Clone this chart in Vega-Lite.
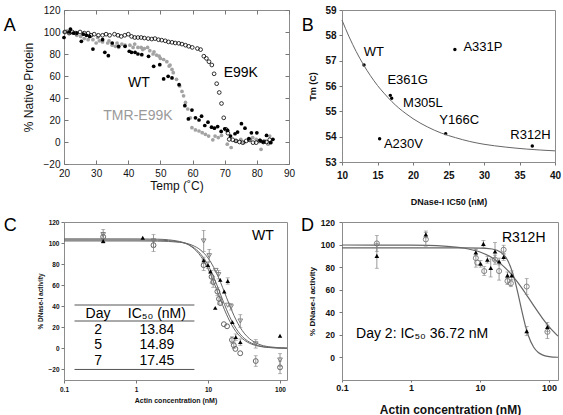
{
  "$schema": "https://vega.github.io/schema/vega-lite/v6.json",
  "padding": {"left": 3, "top": 4, "right": 0, "bottom": 0},
  "background": "white",
  "config": {
    "font": "Liberation Sans",
    "view": {"stroke": "#8c8c8c", "strokeWidth": 1},
    "axis": {"grid": false, "domain": false, "tickColor": "#777", "labelColor": "#111", "titleColor": "#111", "labelFlush": false, "labelOverlap": false, "labelFont": "Liberation Sans", "titleFont": "Liberation Sans"},
    "text": {"font": "Liberation Sans"}
  },
  "datasets": {
    "A": [
      {"s":"TMR","t":20,"v":100},{"s":"TMR","t":21,"v":101},{"s":"TMR","t":22,"v":99},{"s":"TMR","t":23,"v":99},{"s":"TMR","t":24,"v":97},{"s":"TMR","t":25.2,"v":96},{"s":"TMR","t":26.3,"v":94},{"s":"TMR","t":27.5,"v":93},{"s":"TMR","t":29,"v":93},{"s":"TMR","t":30,"v":90},{"s":"TMR","t":30.5,"v":95},{"s":"TMR","t":31,"v":92},{"s":"TMR","t":32,"v":91},{"s":"TMR","t":33.6,"v":90},{"s":"TMR","t":34,"v":92},{"s":"TMR","t":35,"v":88},{"s":"TMR","t":36,"v":87},{"s":"TMR","t":36.5,"v":90},{"s":"TMR","t":37,"v":86},{"s":"TMR","t":38,"v":89},{"s":"TMR","t":39,"v":88},{"s":"TMR","t":40.5,"v":88},{"s":"TMR","t":41.5,"v":86},{"s":"TMR","t":42,"v":89},{"s":"TMR","t":43,"v":86},{"s":"TMR","t":44,"v":86},{"s":"TMR","t":44.5,"v":84},{"s":"TMR","t":45,"v":85},{"s":"TMR","t":46,"v":86},{"s":"TMR","t":46.7,"v":83},{"s":"TMR","t":47.7,"v":80},{"s":"TMR","t":48,"v":82},{"s":"TMR","t":48.8,"v":79},{"s":"TMR","t":49.6,"v":78},{"s":"TMR","t":50,"v":76},{"s":"TMR","t":51,"v":75},{"s":"TMR","t":52,"v":73},{"s":"TMR","t":52.7,"v":69},{"s":"TMR","t":53,"v":70},{"s":"TMR","t":53.6,"v":66},{"s":"TMR","t":54,"v":63},{"s":"TMR","t":55,"v":57},{"s":"TMR","t":56,"v":51},{"s":"TMR","t":56.7,"v":46},{"s":"TMR","t":57.2,"v":42},{"s":"TMR","t":57.8,"v":36},{"s":"TMR","t":58.5,"v":30},{"s":"TMR","t":59.3,"v":22},{"s":"TMR","t":59.8,"v":13},{"s":"TMR","t":60.9,"v":11},{"s":"TMR","t":62,"v":10},{"s":"TMR","t":63,"v":8.5},{"s":"TMR","t":64,"v":7},{"s":"TMR","t":65,"v":5.4},{"s":"TMR","t":66.3,"v":2},{"s":"TMR","t":67,"v":5.4},{"s":"TMR","t":68,"v":4},{"s":"TMR","t":69,"v":6},{"s":"TMR","t":70.8,"v":-2},{"s":"TMR","t":72,"v":-5},{"s":"TMR","t":73.5,"v":1},{"s":"TMR","t":75,"v":2.4},{"s":"TMR","t":76,"v":-0.6},{"s":"TMR","t":77.6,"v":2},{"s":"TMR","t":78.7,"v":4},{"s":"TMR","t":79.8,"v":2.4},{"s":"TMR","t":81.3,"v":-6.6},{"s":"TMR","t":82.4,"v":1},{"s":"TMR","t":83.5,"v":-2},{"s":"TMR","t":84,"v":5.4},{"s":"TMR","t":84.5,"v":0},
      {"s":"E99K","t":20.3,"v":100},{"s":"E99K","t":21.6,"v":99},{"s":"E99K","t":22.6,"v":100},{"s":"E99K","t":23.7,"v":99},{"s":"E99K","t":25,"v":100},{"s":"E99K","t":26.3,"v":99},{"s":"E99K","t":27.5,"v":99},{"s":"E99K","t":28.4,"v":97},{"s":"E99K","t":29.4,"v":98},{"s":"E99K","t":30.7,"v":97},{"s":"E99K","t":32,"v":97},{"s":"E99K","t":33.1,"v":98},{"s":"E99K","t":34.2,"v":97},{"s":"E99K","t":35.7,"v":98},{"s":"E99K","t":36.8,"v":97},{"s":"E99K","t":37.8,"v":96},{"s":"E99K","t":38.9,"v":97},{"s":"E99K","t":40,"v":98},{"s":"E99K","t":41,"v":96},{"s":"E99K","t":42,"v":95},{"s":"E99K","t":43,"v":95},{"s":"E99K","t":44,"v":95},{"s":"E99K","t":45,"v":94.5},{"s":"E99K","t":46.2,"v":94},{"s":"E99K","t":47.3,"v":93.6},{"s":"E99K","t":48.3,"v":94},{"s":"E99K","t":49.4,"v":93},{"s":"E99K","t":50.4,"v":92.6},{"s":"E99K","t":51.5,"v":92},{"s":"E99K","t":52.5,"v":91},{"s":"E99K","t":53.6,"v":90.6},{"s":"E99K","t":54.6,"v":90},{"s":"E99K","t":55.7,"v":89.7},{"s":"E99K","t":56.7,"v":89},{"s":"E99K","t":57.8,"v":88},{"s":"E99K","t":58.8,"v":87},{"s":"E99K","t":59.9,"v":86},{"s":"E99K","t":61.5,"v":85},{"s":"E99K","t":62.5,"v":84},{"s":"E99K","t":63.5,"v":78},{"s":"E99K","t":64.3,"v":76},{"s":"E99K","t":65.1,"v":73},{"s":"E99K","t":66,"v":70},{"s":"E99K","t":66.7,"v":62},{"s":"E99K","t":67.5,"v":53},{"s":"E99K","t":68.3,"v":45},{"s":"E99K","t":69,"v":35},{"s":"E99K","t":69.7,"v":22},{"s":"E99K","t":70.4,"v":11.5},{"s":"E99K","t":71,"v":8},{"s":"E99K","t":71.4,"v":2.4},{"s":"E99K","t":72.5,"v":2},{"s":"E99K","t":73.5,"v":1},{"s":"E99K","t":74.6,"v":0},{"s":"E99K","t":75.6,"v":-0.6},{"s":"E99K","t":76.7,"v":1},{"s":"E99K","t":77.7,"v":2},{"s":"E99K","t":78.8,"v":-0.6},{"s":"E99K","t":79.8,"v":-0.6},{"s":"E99K","t":80.9,"v":1},{"s":"E99K","t":82,"v":0},{"s":"E99K","t":83,"v":0},{"s":"E99K","t":84,"v":2},
      {"s":"WT","t":20,"v":95},{"s":"WT","t":21.6,"v":100},{"s":"WT","t":22,"v":102.7},{"s":"WT","t":23,"v":99},{"s":"WT","t":24,"v":99},{"s":"WT","t":25.4,"v":91.5},{"s":"WT","t":26,"v":98},{"s":"WT","t":27,"v":97},{"s":"WT","t":28,"v":96},{"s":"WT","t":29,"v":84.5},{"s":"WT","t":32,"v":93},{"s":"WT","t":32.7,"v":81.5},{"s":"WT","t":33.8,"v":78.5},{"s":"WT","t":35,"v":90},{"s":"WT","t":37,"v":87},{"s":"WT","t":39,"v":87},{"s":"WT","t":40.3,"v":82.5},{"s":"WT","t":41,"v":81.5},{"s":"WT","t":42.1,"v":81.5},{"s":"WT","t":43,"v":80},{"s":"WT","t":44.2,"v":79.4},{"s":"WT","t":46.3,"v":77.9},{"s":"WT","t":47.9,"v":68.8},{"s":"WT","t":49.8,"v":70.3},{"s":"WT","t":51,"v":57.3},{"s":"WT","t":52.4,"v":59.7},{"s":"WT","t":53.6,"v":58.2},{"s":"WT","t":55.8,"v":52.1},{"s":"WT","t":57.6,"v":33},{"s":"WT","t":58.7,"v":21},{"s":"WT","t":59.8,"v":29},{"s":"WT","t":60.9,"v":22},{"s":"WT","t":62,"v":20},{"s":"WT","t":62.8,"v":23.5},{"s":"WT","t":63.8,"v":15},{"s":"WT","t":64.8,"v":18},{"s":"WT","t":65.9,"v":13.5},{"s":"WT","t":66.8,"v":12.6},{"s":"WT","t":67.8,"v":14},{"s":"WT","t":68.9,"v":9.6},{"s":"WT","t":70,"v":12},{"s":"WT","t":70.9,"v":10.5},{"s":"WT","t":71.8,"v":5.4},{"s":"WT","t":73.2,"v":7.5},{"s":"WT","t":74,"v":9},{"s":"WT","t":75.2,"v":16.6},{"s":"WT","t":76.3,"v":12.6},{"s":"WT","t":77.5,"v":3},{"s":"WT","t":78.3,"v":8.4},{"s":"WT","t":80,"v":8.4},{"s":"WT","t":81,"v":1.5},{"s":"WT","t":82,"v":0},{"s":"WT","t":83,"v":6},{"s":"WT","t":84.3,"v":-0.6},{"s":"WT","t":85,"v":2.4}
    ],
    "B_curve": [
      {"x":10,"y":58.6},{"x":11,"y":57.94},{"x":12,"y":57.36},{"x":13,"y":56.85},{"x":14,"y":56.41},{"x":15,"y":56.02},{"x":16,"y":55.69},{"x":17,"y":55.39},{"x":18,"y":55.13},{"x":19,"y":54.91},{"x":20,"y":54.71},{"x":22,"y":54.39},{"x":24,"y":54.14},{"x":26,"y":53.96},{"x":28,"y":53.81},{"x":30,"y":53.7},{"x":33,"y":53.59},{"x":36,"y":53.51},{"x":40,"y":53.44}
    ],
    "B_pts": [
      {"m":"WT","x":13.1,"y":56.83,"lx":13.05,"ly":57.36},
      {"m":"E361G","x":16.8,"y":55.63,"lx":16.4,"ly":56.22},
      {"m":"M305L","x":17.0,"y":55.52,"lx":18.6,"ly":55.34},
      {"m":"A331P","x":25.9,"y":57.44,"lx":27.1,"ly":57.53},
      {"m":"A230V","x":15.3,"y":53.92,"lx":15.9,"ly":53.7},
      {"m":"Y166C","x":24.6,"y":54.12,"lx":23.7,"ly":54.64},
      {"m":"R312H","x":36.8,"y":53.63,"lx":33.7,"ly":54.08}
    ],
    "C_curve": [
      {"d":"2","c":0.1,"v":104},{"d":"2","c":1,"v":103.96},{"d":"2","c":2,"v":103.69},{"d":"2","c":4,"v":101.55},{"d":"2","c":6,"v":96.17},{"d":"2","c":8,"v":87.17},{"d":"2","c":10,"v":75.52},{"d":"2","c":12,"v":62.96},{"d":"2","c":14,"v":51.1},{"d":"2","c":16,"v":40.86},{"d":"2","c":18,"v":32.5},{"d":"2","c":20,"v":25.88},{"d":"2","c":23,"v":18.61},{"d":"2","c":26,"v":13.63},{"d":"2","c":30,"v":9.3},{"d":"2","c":35,"v":6.06},{"d":"2","c":40,"v":4.14},{"d":"2","c":50,"v":2.16},{"d":"2","c":70,"v":0.8},{"d":"2","c":125,"v":0.14},
      {"d":"5","c":0.1,"v":103},{"d":"5","c":1,"v":102.97},{"d":"5","c":2,"v":102.75},{"d":"5","c":4,"v":101.04},{"d":"5","c":6,"v":96.67},{"d":"5","c":8,"v":89.17},{"d":"5","c":10,"v":79.05},{"d":"5","c":12,"v":67.61},{"d":"5","c":14,"v":56.24},{"d":"5","c":16,"v":45.97},{"d":"5","c":18,"v":37.23},{"d":"5","c":20,"v":30.09},{"d":"5","c":23,"v":21.98},{"d":"5","c":26,"v":16.29},{"d":"5","c":30,"v":11.22},{"d":"5","c":35,"v":7.36},{"d":"5","c":40,"v":5.05},{"d":"5","c":50,"v":2.65},{"d":"5","c":70,"v":0.98},{"d":"5","c":125,"v":0.17},
      {"d":"7","c":0.1,"v":102},{"d":"7","c":1,"v":101.98},{"d":"7","c":2,"v":101.85},{"d":"7","c":4,"v":100.79},{"d":"7","c":6,"v":98.02},{"d":"7","c":8,"v":93.04},{"d":"7","c":10,"v":85.84},{"d":"7","c":12,"v":76.97},{"d":"7","c":14,"v":67.27},{"d":"7","c":16,"v":57.6},{"d":"7","c":18,"v":48.63},{"d":"7","c":20,"v":40.71},{"d":"7","c":23,"v":31},{"d":"7","c":26,"v":23.68},{"d":"7","c":30,"v":16.77},{"d":"7","c":35,"v":11.25},{"d":"7","c":40,"v":7.82},{"d":"7","c":50,"v":4.16},{"d":"7","c":70,"v":1.56},{"d":"7","c":125,"v":0.28}
    ],
    "C_pts": [
      {"d":"2","c":0.35,"v":102,"e":2},{"d":"2","c":1.24,"v":105,"e":0},{"d":"2","c":8.7,"v":83.6,"e":3},{"d":"2","c":10,"v":79,"e":3},{"d":"2","c":10.8,"v":73,"e":0},{"d":"2","c":12.6,"v":38.5,"e":0},{"d":"2","c":14.8,"v":65,"e":0},{"d":"2","c":16.8,"v":54,"e":0},{"d":"2","c":18.8,"v":64,"e":3},{"d":"2","c":21.8,"v":25,"e":0},{"d":"2","c":24.3,"v":10.7,"e":3},{"d":"2","c":28.1,"v":6,"e":3},{"d":"2","c":100,"v":12,"e":0},
      {"d":"5","c":0.35,"v":106,"e":4},{"d":"5","c":1.75,"v":98,"e":6},{"d":"5","c":8.7,"v":79,"e":5},{"d":"5","c":11.2,"v":68,"e":6},{"d":"5","c":11.8,"v":63,"e":5},{"d":"5","c":13.5,"v":54,"e":4},{"d":"5","c":14.2,"v":47,"e":5},{"d":"5","c":14.8,"v":43,"e":0},{"d":"5","c":16.6,"v":23,"e":0},{"d":"5","c":18.4,"v":21,"e":0},{"d":"5","c":21.5,"v":8,"e":3},{"d":"5","c":22.8,"v":3,"e":3},{"d":"5","c":24,"v":-0.5,"e":0},{"d":"5","c":28,"v":-4.6,"e":0},{"d":"5","c":46,"v":-12,"e":5},{"d":"5","c":100,"v":-18,"e":6},
      {"d":"7","c":0.35,"v":108,"e":5},{"d":"7","c":1.75,"v":102,"e":6},{"d":"7","c":8.7,"v":102,"e":10},{"d":"7","c":10.4,"v":88,"e":6},{"d":"7","c":12.8,"v":74,"e":0},{"d":"7","c":14,"v":70,"e":4},{"d":"7","c":18.8,"v":41,"e":0},{"d":"7","c":20.9,"v":39.5,"e":3},{"d":"7","c":28.1,"v":26,"e":6},{"d":"7","c":46,"v":4.3,"e":4},{"d":"7","c":100,"v":-11,"e":6}
    ],
    "D_curve": [
      {"s":"tri","c":0.1,"v":97},{"s":"tri","c":1,"v":97},{"s":"tri","c":3,"v":97},{"s":"tri","c":6,"v":96.99},{"s":"tri","c":10,"v":96.88},{"s":"tri","c":15,"v":96.08},{"s":"tri","c":20,"v":93.23},{"s":"tri","c":25,"v":86.36},{"s":"tri","c":30,"v":74.24},{"s":"tri","c":35,"v":58.32},{"s":"tri","c":40,"v":42.32},{"s":"tri","c":45,"v":29.15},{"s":"tri","c":50,"v":19.62},{"s":"tri","c":60,"v":8.97},{"s":"tri","c":70,"v":4.37},{"s":"tri","c":80,"v":2.28},{"s":"tri","c":100,"v":0.77},{"s":"tri","c":135,"v":0.17},
      {"s":"circ","c":0.1,"v":99.6},{"s":"circ","c":1,"v":99.43},{"s":"circ","c":3,"v":98.64},{"s":"circ","c":6,"v":96.75},{"s":"circ","c":10,"v":93.39},{"s":"circ","c":15,"v":88.35},{"s":"circ","c":20,"v":82.88},{"s":"circ","c":25,"v":77.33},{"s":"circ","c":30,"v":71.86},{"s":"circ","c":35,"v":66.68},{"s":"circ","c":40,"v":61.81},{"s":"circ","c":45,"v":57.3},{"s":"circ","c":50,"v":53.15},{"s":"circ","c":60,"v":45.9},{"s":"circ","c":70,"v":39.89},{"s":"circ","c":80,"v":34.9},{"s":"circ","c":100,"v":27.3},{"s":"circ","c":135,"v":18.86}
    ],
    "D_pts": [
      {"s":"tri","c":0.32,"v":90,"e":11},{"s":"tri","c":1.64,"v":109,"e":3},{"s":"tri","c":8.7,"v":93,"e":3},{"s":"tri","c":10.2,"v":83,"e":3},{"s":"tri","c":11.2,"v":100.6,"e":3},{"s":"tri","c":12.8,"v":86.6,"e":3},{"s":"tri","c":14.3,"v":79.3,"e":8},{"s":"tri","c":16.5,"v":93.9,"e":8},{"s":"tri","c":18.9,"v":85,"e":3},{"s":"tri","c":22,"v":89,"e":3},{"s":"tri","c":25,"v":72.7,"e":3},{"s":"tri","c":28.8,"v":72.7,"e":4},{"s":"tri","c":47.5,"v":23.3,"e":4},{"s":"tri","c":94.8,"v":27,"e":4},
      {"s":"circ","c":0.32,"v":101,"e":7},{"s":"circ","c":1.64,"v":104.6,"e":6},{"s":"circ","c":8.7,"v":88,"e":8},{"s":"circ","c":9.1,"v":84,"e":0},{"s":"circ","c":11.5,"v":76.5,"e":4},{"s":"circ","c":16.5,"v":86.6,"e":4},{"s":"circ","c":18.9,"v":76.5,"e":8},{"s":"circ","c":22,"v":95.4,"e":4},{"s":"circ","c":25,"v":67.7,"e":3},{"s":"circ","c":28,"v":65.7,"e":3},{"s":"circ","c":47.5,"v":62.8,"e":7},{"s":"circ","c":94.8,"v":22.7,"e":6}
    ]
  },
  "concat": [
    {
      "width": 225, "height": 154,
      "layer": [
        {
          "data": {"name": "A"}, "transform": [{"filter": "datum.s === 'TMR'"}],
          "mark": {"type": "circle", "size": 14, "color": "#a3a3a3", "opacity": 1},
          "encoding": {
            "x": {"field": "t", "type": "quantitative", "scale": {"domain": [20, 90], "nice": false, "zero": false},
              "axis": {"orient": "bottom", "values": [20,30,40,50,60,70,80,90], "title": "Temp (˚C)", "titleFontSize": 12, "titleFontWeight": "normal", "labelFontSize": 10, "tickSize": -4, "labelPadding": 8, "titlePadding": 2}},
            "y": {"field": "v", "type": "quantitative", "scale": {"domain": [-20, 120], "nice": false, "zero": false},
              "axis": {"orient": "left", "values": [-20,0,20,40,60,80,100,120], "title": "% Native Protein", "titleFontSize": 12, "titleFontWeight": "normal", "labelFontSize": 10, "tickSize": -4, "labelPadding": 8, "titlePadding": 8}}
          }
        },
        {
          "data": {"name": "A"}, "transform": [{"filter": "datum.s === 'E99K'"}],
          "mark": {"type": "point", "size": 14, "stroke": "#000", "strokeWidth": 0.8, "filled": false, "opacity": 1},
          "encoding": {"x": {"field": "t", "type": "quantitative", "axis": null}, "y": {"field": "v", "type": "quantitative", "axis": null}}
        },
        {
          "data": {"name": "A"}, "transform": [{"filter": "datum.s === 'WT'"}],
          "mark": {"type": "circle", "size": 14, "color": "#000", "opacity": 1},
          "encoding": {"x": {"field": "t", "type": "quantitative", "axis": null}, "y": {"field": "v", "type": "quantitative", "axis": null}}
        },
        {
          "data": {"values": [{"x": 43.3, "y": 53.6, "t": "WT"}, {"x": 75, "y": 62.7, "t": "E99K"}, {"x": 43, "y": 23.6, "t": "TMR-E99K"}]},
          "mark": {"type": "text", "fontSize": 14, "align": "center", "baseline": "middle"},
          "encoding": {
            "x": {"field": "x", "type": "quantitative", "axis": {"orient": "top", "labels": false, "title": null, "tickSize": -4, "values": [20,30,40,50,60,70,80,90]}},
            "y": {"field": "y", "type": "quantitative", "axis": {"orient": "right", "labels": false, "title": null, "tickSize": -4, "values": [-20,0,20,40,60,80,100,120]}},
            "text": {"field": "t"},
            "color": {"condition": {"test": "datum.t === 'TMR-E99K'", "value": "#9a9a9a"}, "value": "#000"}
          }
        },
        {
          "data": {"values": [{}]},
          "mark": {"type": "text", "fontSize": 18, "align": "left", "baseline": "alphabetic", "color": "#000"},
          "encoding": {"x": {"datum": 1.24, "type": "quantitative", "axis": null}, "y": {"datum": 100.9, "type": "quantitative", "axis": null}, "text": {"value": "A"}}
        }
      ]
    },
    {
      "width": 213, "height": 152,
      "layer": [
        {
          "data": {"name": "B_pts"},
          "mark": {"type": "circle", "size": 12, "color": "#000", "opacity": 1},
          "encoding": {
            "x": {"field": "x", "type": "quantitative", "scale": {"domain": [10, 40], "nice": false, "zero": false},
              "axis": {"orient": "bottom", "values": [10,15,20,25,30,35,40], "title": "DNase-I IC50 (nM)", "titleFontSize": 9, "titleFontWeight": "bold", "labelFontSize": 10, "labelFontWeight": "bold", "tickSize": 3, "labelPadding": 5, "titlePadding": 17}},
            "y": {"field": "y", "type": "quantitative", "scale": {"domain": [53, 59], "nice": false, "zero": false},
              "axis": {"orient": "left", "values": [53,54,55,56,57,58,59], "title": "Tm (C)", "titleFontSize": 9, "titleFontWeight": "bold", "labelFontSize": 10, "labelFontWeight": "bold", "tickSize": 3, "labelPadding": 3, "titlePadding": 7}}
          }
        },
        {
          "data": {"name": "B_curve"},
          "mark": {"type": "line", "color": "#666", "strokeWidth": 1, "interpolate": "monotone"},
          "encoding": {"x": {"field": "x", "type": "quantitative", "axis": null}, "y": {"field": "y", "type": "quantitative", "axis": null}}
        },
        {
          "data": {"name": "B_pts"},
          "mark": {"type": "text", "fontSize": 13, "align": "left", "baseline": "middle", "color": "#000"},
          "encoding": {
            "x": {"field": "lx", "type": "quantitative", "axis": {"orient": "top", "labels": false, "ticks": false, "title": null, "domain": false}},
            "y": {"field": "ly", "type": "quantitative", "axis": {"orient": "right", "labels": false, "ticks": false, "title": null, "domain": false}},
            "text": {"field": "m"}}
        },
        {
          "data": {"values": [{}]},
          "mark": {"type": "text", "fontSize": 18, "align": "left", "baseline": "alphabetic", "color": "#000"},
          "encoding": {"x": {"datum": 4.32, "type": "quantitative", "axis": null}, "y": {"datum": 58.17, "type": "quantitative", "axis": null}, "text": {"value": "B"}}
        }
      ]
    },
    {
      "width": 223, "height": 158,
      "layer": [
        {
          "data": {"name": "C_pts"}, "transform": [{"filter": "datum.d === '5'"}],
          "mark": {"type": "point", "shape": "circle", "filled": false, "stroke": "#555", "strokeWidth": 0.9, "size": 24, "opacity": 1},
          "encoding": {
            "x": {"field": "c", "type": "quantitative", "scale": {"type": "log", "domain": [0.1, 125], "nice": false},
              "axis": {"orient": "bottom", "values": [0.1, 1, 10, 100], "format": "~g", "title": "Actin concentration (nM)", "titleFontSize": 7, "titleFontWeight": "bold", "labelFontSize": 6.5, "labelFontWeight": "bold", "tickSize": 3, "labelPadding": 3, "titlePadding": 4}},
            "y": {"field": "v", "type": "quantitative", "scale": {"domain": [-30, 120], "nice": false, "zero": false},
              "axis": {"orient": "left", "values": [-20,0,20,40,60,80,100,120], "title": "% DNase-I activity", "titleFontSize": 6.5, "titleFontWeight": "bold", "labelFontSize": 6.5, "labelFontWeight": "bold", "tickSize": 3, "labelPadding": 2, "titlePadding": 4}}
          }
        },
        {
          "data": {"name": "C_curve"},
          "mark": {"type": "line", "color": "#666", "strokeWidth": 1, "interpolate": "monotone"},
          "encoding": {"x": {"field": "c", "type": "quantitative", "axis": null}, "y": {"field": "v", "type": "quantitative", "axis": null}, "detail": {"field": "d"}}
        },
        {
          "data": {"name": "C_pts"}, "transform": [{"filter": "datum.e > 0"}],
          "mark": {"type": "errorbar", "ticks": {"size": 4}, "color": "#808080", "thickness": 0.8},
          "encoding": {"x": {"field": "c", "type": "quantitative", "axis": null}, "y": {"field": "v", "type": "quantitative", "axis": null}, "yError": {"field": "e"}}
        },
        {
          "data": {"name": "C_pts"}, "transform": [{"filter": "datum.d === '7'"}],
          "mark": {"type": "point", "shape": "triangle-down", "filled": false, "stroke": "#777", "strokeWidth": 0.9, "size": 22, "opacity": 1},
          "encoding": {"x": {"field": "c", "type": "quantitative", "axis": null}, "y": {"field": "v", "type": "quantitative", "axis": null}}
        },
        {
          "data": {"name": "C_pts"}, "transform": [{"filter": "datum.d === '2'"}],
          "mark": {"type": "point", "shape": "triangle-up", "filled": true, "color": "#000", "size": 20, "opacity": 1},
          "encoding": {"x": {"field": "c", "type": "quantitative", "axis": null}, "y": {"field": "v", "type": "quantitative", "axis": null}}
        },
        {
          "data": {"values": [{"x": 0.14, "x2": 6.47, "y": 41.2}, {"x": 0.14, "x2": 6.47, "y": 26}, {"x": 0.14, "x2": 6.47, "y": -20}]},
          "mark": {"type": "rule", "color": "#555", "strokeWidth": 1},
          "encoding": {"x": {"field": "x", "type": "quantitative", "axis": null}, "x2": {"field": "x2"}, "y": {"field": "y", "type": "quantitative", "axis": null}}
        },
        {
          "data": {"values": [
            {"x": 0.297, "y": 33, "t": "Day"}, {"x": 1.95, "y": 33, "t": "IC₅₀ (nM)"},
            {"x": 0.297, "y": 17.4, "t": "2"}, {"x": 1.95, "y": 17.4, "t": "13.84"},
            {"x": 0.297, "y": 3.1, "t": "5"}, {"x": 1.95, "y": 3.1, "t": "14.89"},
            {"x": 0.297, "y": -12.1, "t": "7"}, {"x": 1.95, "y": -12.1, "t": "17.45"}
          ]},
          "mark": {"type": "text", "fontSize": 14, "align": "center", "baseline": "middle", "color": "#000"},
          "encoding": {"x": {"field": "x", "type": "quantitative", "axis": null}, "y": {"field": "y", "type": "quantitative", "axis": null}, "text": {"field": "t"}}
        },
        {
          "data": {"values": [{"x": 57.8, "y": 107, "t": "WT"}]},
          "mark": {"type": "text", "fontSize": 14, "align": "center", "baseline": "middle", "color": "#000"},
          "encoding": {
            "x": {"field": "x", "type": "quantitative", "axis": {"orient": "top", "labels": false, "ticks": false, "title": null, "domain": false}},
            "y": {"field": "y", "type": "quantitative", "axis": {"orient": "right", "labels": false, "ticks": false, "title": null, "domain": false}},
            "text": {"field": "t"}}
        },
        {
          "data": {"values": [{}]},
          "mark": {"type": "text", "fontSize": 18, "align": "left", "baseline": "alphabetic", "color": "#000"},
          "encoding": {"x": {"datum": 0.01454, "type": "quantitative", "axis": null}, "y": {"datum": 111.5, "type": "quantitative", "axis": null}, "text": {"value": "C"}}
        }
      ]
    },
    {
      "width": 216, "height": 158,
      "layer": [
        {
          "data": {"name": "D_pts"}, "transform": [{"filter": "datum.s === 'circ'"}],
          "mark": {"type": "point", "shape": "circle", "filled": false, "stroke": "#777", "strokeWidth": 0.9, "size": 26, "opacity": 1},
          "encoding": {
            "x": {"field": "c", "type": "quantitative", "scale": {"type": "log", "domain": [0.1, 135], "nice": false},
              "axis": {"orient": "bottom", "values": [0.1, 1, 10, 100], "format": "~g", "title": "Actin concentration (nM)", "titleFontSize": 12, "titleFontWeight": "bold", "labelFontSize": 9, "labelFontWeight": "bold", "tickSize": 2, "labelPadding": 1, "titlePadding": 12}},
            "y": {"field": "v", "type": "quantitative", "scale": {"domain": [-20, 120], "nice": false, "zero": false},
              "axis": {"orient": "left", "values": [0,20,40,60,80,100,120], "title": "% DNase-I activity", "titleFontSize": 8, "titleFontWeight": "bold", "labelFontSize": 8.5, "labelFontWeight": "bold", "tickSize": 3, "labelPadding": 4.5, "titlePadding": 4}}
          }
        },
        {
          "data": {"name": "D_curve"},
          "mark": {"type": "line", "color": "#666", "strokeWidth": 1.2, "interpolate": "monotone"},
          "encoding": {"x": {"field": "c", "type": "quantitative", "axis": null}, "y": {"field": "v", "type": "quantitative", "axis": null}, "detail": {"field": "s"}}
        },
        {
          "data": {"name": "D_pts"}, "transform": [{"filter": "datum.e > 0"}],
          "mark": {"type": "errorbar", "ticks": {"size": 4}, "color": "#808080", "thickness": 0.8},
          "encoding": {"x": {"field": "c", "type": "quantitative", "axis": null}, "y": {"field": "v", "type": "quantitative", "axis": null}, "yError": {"field": "e"}}
        },
        {
          "data": {"name": "D_pts"}, "transform": [{"filter": "datum.s === 'tri'"}],
          "mark": {"type": "point", "shape": "triangle-up", "filled": true, "color": "#000", "size": 22, "opacity": 1},
          "encoding": {"x": {"field": "c", "type": "quantitative", "axis": null}, "y": {"field": "v", "type": "quantitative", "axis": null}}
        },
        {
          "data": {"values": [{"x": 43, "y": 105.5, "t": "R312H"}]},
          "mark": {"type": "text", "fontSize": 14, "align": "center", "baseline": "middle", "color": "#000"},
          "encoding": {
            "x": {"field": "x", "type": "quantitative", "axis": {"orient": "top", "labels": false, "ticks": false, "title": null, "domain": false}},
            "y": {"field": "y", "type": "quantitative", "axis": {"orient": "right", "labels": false, "ticks": false, "title": null, "domain": false}},
            "text": {"field": "t"}}
        },
        {
          "data": {"values": [{"x": 0.16, "y": 20.7, "t": "Day 2: IC₅₀ 36.72 nM"}]},
          "mark": {"type": "text", "fontSize": 14, "align": "left", "baseline": "middle", "color": "#000"},
          "encoding": {"x": {"field": "x", "type": "quantitative", "axis": null}, "y": {"field": "y", "type": "quantitative", "axis": null}, "text": {"field": "t"}}
        },
        {
          "data": {"values": [{}]},
          "mark": {"type": "text", "fontSize": 18, "align": "left", "baseline": "alphabetic", "color": "#000"},
          "encoding": {"x": {"datum": 0.02547, "type": "quantitative", "axis": null}, "y": {"datum": 112, "type": "quantitative", "axis": null}, "text": {"value": "D"}}
        }
      ]
    }
  ],
  "columns": 2,
  "bounds": "flush",
  "spacing": {"row": 58, "column": 53}
}
